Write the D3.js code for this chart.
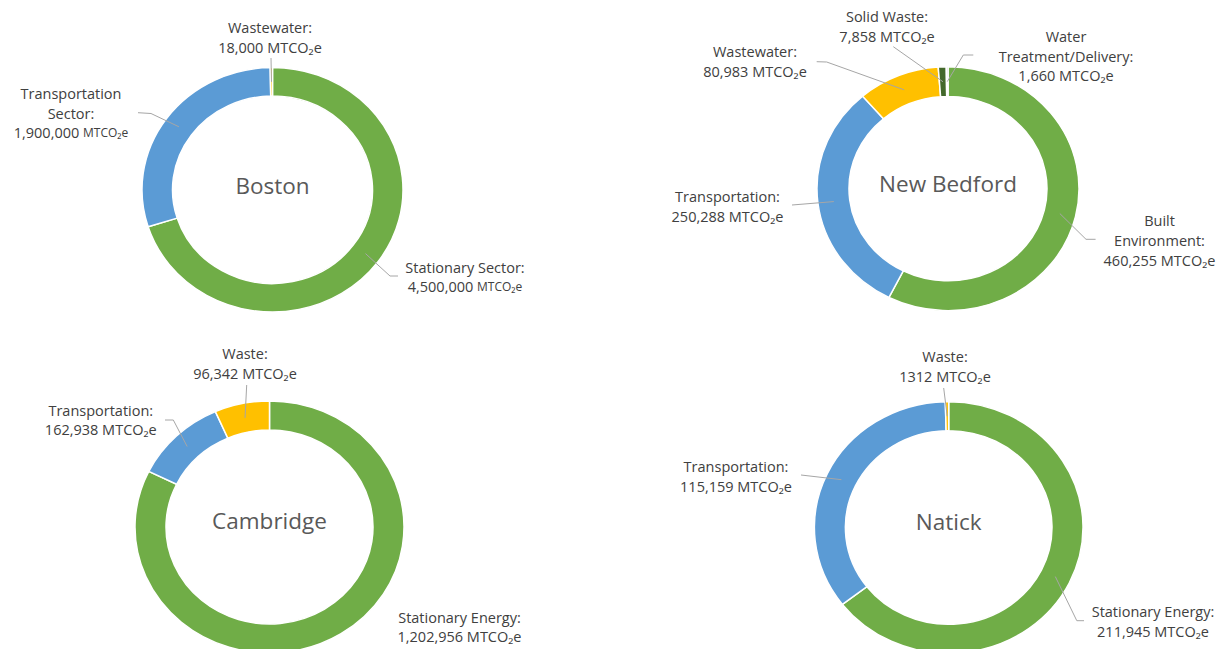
<!DOCTYPE html>
<html>
<head>
<meta charset="utf-8">
<script src="https://cdn.jsdelivr.net/npm/d3@7"></script>
<style>
  html, body { margin: 0; padding: 0; background: #ffffff; }
  svg text { font-family: "Open Sans", "Noto Sans", sans-serif; }
</style>
</head>
<body>
<div id="chart"></div>
<script>
// data (MTCO2e)
var bostonCats = ["Stationary Sector", "Transportation Sector", "Wastewater"];
var bostonVals = [4500000, 1900000, 18000];
var bostonLabels = [["Stationary Sector:", "4,500,000 MTCO₂e"], ["Transportation", "Sector:", "1,900,000 MTCO₂e"], ["Wastewater:", "18,000 MTCO₂e"]];

var bedfordCats = ["Built Environment", "Transportation", "Wastewater", "Solid Waste", "Water Treatment/Delivery"];
var bedfordVals = [460255, 250288, 80983, 7858, 1660];
var bedfordLabels = [["Built", "Environment:", "460,255 MTCO₂e"], ["Transportation:", "250,288 MTCO₂e"], ["Wastewater:", "80,983 MTCO₂e"], ["Solid Waste:", "7,858 MTCO₂e"], ["Water", "Treatment/Delivery:", "1,660 MTCO₂e"]];

var cambridgeCats = ["Stationary Energy", "Transportation", "Waste"];
var cambridgeVals = [1202956, 162938, 96342];
var cambridgeLabels = [["Stationary Energy:", "1,202,956 MTCO₂e"], ["Transportation:", "162,938 MTCO₂e"], ["Waste:", "96,342 MTCO₂e"]];

var natickCats = ["Stationary Energy", "Transportation", "Waste"];
var natickVals = [211945, 115159, 1312];
var natickLabels = [["Stationary Energy:", "211,945 MTCO₂e"], ["Transportation:", "115,159 MTCO₂e"], ["Waste:", "1312 MTCO₂e"]];

var width = 1228, height = 649;
var green = "#70AD47", blue = "#5B9BD5", gold = "#FFC000";
var lineh = 19.7;

// layout: centre, radii, vertical squash, label anchors, leader points on the label side
var charts = [
  {title: "Boston", cats: bostonCats, vals: bostonVals, labels: bostonLabels,
   colors: [green, blue, gold],
   cx: 272.5, cy: 189.8, ro: 130.5, ri: 100, ky: 0.937, ty: 185,
   lab: [[465, 267], [71, 93.3], [270, 27.5]],
   lead: [[[398, 276], [390, 276]], [[138, 112.7], [151, 113.5]], [[271, 58]]],
   smallUnit: [true, true, false]},
  {title: "New Bedford", cats: bedfordCats, vals: bedfordVals, labels: bedfordLabels,
   colors: [green, blue, gold, "#43682B", "#A5A5A5"],
   cx: 948, cy: 188.7, ro: 131, ri: 99, ky: 0.931, ty: 183.3,
   lab: [[1159.5, 220.7], [727.5, 196.7], [755, 51.7], [887, 16.5], [1066, 36.5]],
   lead: [[[1095.6, 239.3], [1086, 239.3]], [[792, 205]], [[816.7, 61.7], [826.7, 62]], [[893.3, 46.7]], [[973.3, 55], [963.3, 55]]],
   smallUnit: [false, false, false, false, false]},
  {title: "Cambridge", cats: cambridgeCats, vals: cambridgeVals, labels: cambridgeLabels,
   colors: [green, blue, gold],
   cx: 269.5, cy: 527, ro: 134.5, ri: 103.5, ky: 0.937, ty: 520,
   lab: [[459.5, 617], [100.8, 410], [245, 353.3]],
   lead: [null, [[165, 420], [173.3, 420]], [[246.7, 385]]],
   smallUnit: [false, false, false]},
  {title: "Natick", cats: natickCats, vals: natickVals, labels: natickLabels,
   colors: [green, blue, gold],
   cx: 948.7, cy: 527.5, ro: 134.3, ri: 103.3, ky: 0.937, ty: 521.7,
   lab: [[1153, 611.7], [736, 466.7], [945, 356.7]],
   lead: [[[1084, 620.7], [1076.8, 620.7]], [[801, 475]], [[943.7, 388]]],
   smallUnit: [false, false, false]}
];

var svg = d3.select("#chart")
  .append("svg")
  .attr("width", width)
  .attr("height", height);

var pie = d3.pie().sort(null).value(function(d) { return d; });

charts.forEach(function(c) {
  var arcs = pie(c.vals);
  var arc = d3.arc().innerRadius(c.ri).outerRadius(c.ro);
  var mid = (c.ri + c.ro) / 2;
  var midArc = d3.arc().innerRadius(mid).outerRadius(mid);

  var g = svg.append("g").attr("class", "donut");

  g.append("g")
    .attr("transform", "translate(" + c.cx + "," + c.cy + ") scale(1," + c.ky + ")")
    .selectAll("path")
    .data(arcs)
    .enter().append("path")
    .attr("d", arc)
    .attr("fill", function(d, i) { return c.colors[i]; })
    .attr("stroke", "#ffffff")
    .attr("stroke-width", 1.5)
    .attr("vector-effect", "non-scaling-stroke");

  g.append("text")
    .attr("x", c.cx)
    .attr("y", c.ty)
    .attr("text-anchor", "middle")
    .attr("dominant-baseline", "central")
    .attr("fill", "#595959")
    .style("font-size", "22.5px")
    .text(c.title);

  // leader lines: label side -> slice centroid
  arcs.forEach(function(d, i) {
    if (!c.lead[i]) return;
    var cen = midArc.centroid(d);
    var pts = c.lead[i].concat([[c.cx + cen[0], c.cy + cen[1] * c.ky]]);
    g.append("path")
      .attr("d", d3.line()(pts))
      .attr("fill", "none")
      .attr("stroke", "#a6a6a6")
      .attr("stroke-width", 1);
  });

  // labels
  c.labels.forEach(function(lines, i) {
    var t = g.append("text")
      .attr("text-anchor", "middle")
      .attr("fill", "#404040")
      .style("font-size", "14.5px");
    lines.forEach(function(s, k) {
      var y = c.lab[i][1] + k * lineh;
      var m = s.match(/^(.*) (MTCO₂e)$/);
      if (m && c.smallUnit[i]) {
        t.append("tspan")
          .attr("x", c.lab[i][0])
          .attr("y", y)
          .attr("dominant-baseline", "central")
          .text(m[1] + " ");
        t.append("tspan")
          .attr("dominant-baseline", "central")
          .style("font-size", "12px")
          .text(m[2]);
      } else {
        t.append("tspan")
          .attr("x", c.lab[i][0])
          .attr("y", y)
          .attr("dominant-baseline", "central")
          .text(s);
      }
    });
  });
});
</script>
</body>
</html>
